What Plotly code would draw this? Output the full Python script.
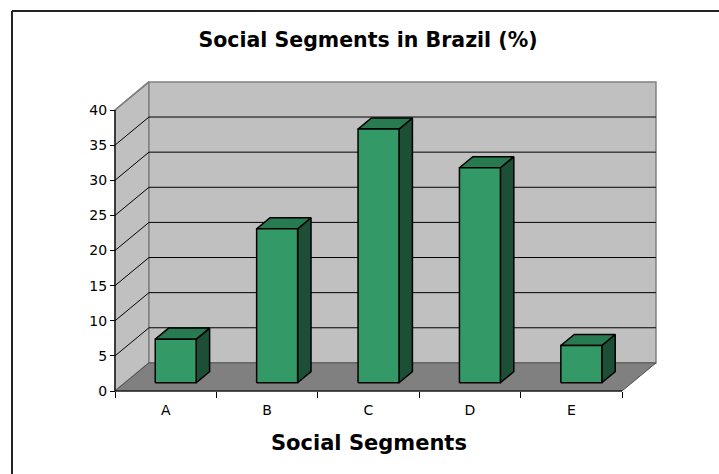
import plotly.graph_objects as go

# ---- data -------------------------------------------------------------
categories = ["A", "B", "C", "D", "E"]
shares = [6.2, 21.9, 36.1, 30.6, 5.3]   # % of population per social segment
y_ticks = [0, 5, 10, 15, 20, 25, 30, 35, 40]

# ---- layout geometry ---------------------------------------------------
W, H = 719, 474
ML, MR, MT, MB = 104, 50, 70, 80        # integer margins of the plot area
PW, PH = W - ML - MR, H - MT - MB
FRAME_X, FRAME_Y = 115, 391             # pixel position of the front-left floor corner
CAT_PX, UNIT_PX = 101.4, 7.025          # pixels per category slot / per percentage point

XMIN = -0.5 - (FRAME_X - ML) / CAT_PX
XMAX = XMIN + PW / CAT_PX
YMIN = -((H - MB) - FRAME_Y) / UNIT_PX
YMAX = YMIN + PH / UNIT_PX

TOP = y_ticks[-1]
N = len(categories)
DX, DY = 0.335, 4.0                     # floor depth vector (category units, % units)
BAR_W = 0.404
BAR_FRONT, BAR_BACK = 0.295, 0.69       # bar position along the depth

WALL = "#c0c0c0"
FLOOR = "#808080"
EDGE = "#808080"
FRONT = "#339966"
TOPC = "#287a51"
SIDE = "#1c4f35"

fig = go.Figure()


def poly_trace(polys, fill, line_color, width):
    xs, ys = [], []
    for p in polys:
        xs += [pt[0] for pt in p] + [p[0][0], None]
        ys += [pt[1] for pt in p] + [p[0][1], None]
    return go.Scatter(x=xs, y=ys, mode="lines", fill="toself", fillcolor=fill,
                      line=dict(color=line_color, width=width),
                      hoverinfo="skip", showlegend=False)


def line_trace(segs, color, width):
    xs, ys = [], []
    for (a, b) in segs:
        xs += [a[0], b[0], None]
        ys += [a[1], b[1], None]
    return go.Scatter(x=xs, y=ys, mode="lines", line=dict(color=color, width=width),
                      hoverinfo="skip", showlegend=False)


L, R = -0.5, N - 0.5
# walls and floor
fig.add_trace(poly_trace([[(L, 0), (L + DX, DY), (L + DX, TOP + DY), (L, TOP)]], WALL, EDGE, 1.5))
fig.add_trace(poly_trace([[(L + DX, DY), (R + DX, DY), (R + DX, TOP + DY), (L + DX, TOP + DY)]],
                         WALL, EDGE, 1.5))
fig.add_trace(poly_trace([[(L, 0), (R, 0), (R + DX, DY), (L + DX, DY)]], FLOOR, "#505050", 1))

# gridlines on the side and back walls
grid = []
for v in y_ticks[1:-1]:
    grid.append(((L, v), (L + DX, v + DY)))
    grid.append(((L + DX, v + DY), (R + DX, v + DY)))
fig.add_trace(line_trace(grid, "black", 1))
fig.add_trace(line_trace([((L, TOP), (L + DX, TOP + DY))], EDGE, 1.5))

# front axis lines
fig.add_trace(line_trace([((L, 0), (L, TOP)), ((L, 0), (R, 0))], "black", 1.2))

# 3-D bars
fronts, tops, sides = [], [], []
ddx = (BAR_BACK - BAR_FRONT) * DX
ddy = (BAR_BACK - BAR_FRONT) * DY
for i, v in enumerate(shares):
    x0 = i - BAR_W / 2 + BAR_FRONT * DX
    x1 = x0 + BAR_W
    y0 = BAR_FRONT * DY
    y1 = y0 + v
    fronts.append([(x0, y0), (x1, y0), (x1, y1), (x0, y1)])
    tops.append([(x0, y1), (x1, y1), (x1 + ddx, y1 + ddy), (x0 + ddx, y1 + ddy)])
    sides.append([(x1, y0), (x1 + ddx, y0 + ddy), (x1 + ddx, y1 + ddy), (x1, y1)])
fig.add_trace(poly_trace(sides, SIDE, "black", 1.5))
fig.add_trace(poly_trace(tops, TOPC, "black", 1.5))
fig.add_trace(poly_trace(fronts, FRONT, "black", 1.5))

tick_font = dict(family="DejaVu Sans", size=14, color="black")

# chart-area frame: only the top and left edges fall inside the page
fx0 = (12 - ML) / PW
fx1 = (W + 40 - ML) / PW
fy0 = ((H - MB) - (H + 40)) / PH
fy1 = ((H - MB) - 11) / PH
frame = dict(color="#222222", width=2)

fig.update_layout(
    width=W, height=H,
    margin=dict(l=ML, r=MR, t=MT, b=MB, pad=0),
    paper_bgcolor="white", plot_bgcolor="rgba(0,0,0,0)",
    showlegend=False,
    title=dict(text="Social Segments in Brazil (%)", x=368 / W, y=1 - 40 / H,
               xref="container", yref="container", xanchor="center", yanchor="middle",
               font=dict(family="DejaVu Sans", size=20.5, color="black", weight="bold")),
    xaxis=dict(range=[XMIN, XMAX], showgrid=False, zeroline=False, showline=False,
               anchor="free", position=((H - MB) - FRAME_Y) / PH,
               tickmode="array", tickvals=list(range(N)), ticktext=categories,
               ticks="", tickfont=tick_font, ticklabelstandoff=9,
               minor=dict(ticks="outside", ticklen=6, tickwidth=1, tickcolor="black",
                          tick0=-0.5, dtick=1, showgrid=False)),
    yaxis=dict(range=[YMIN, YMAX], showgrid=False, zeroline=False, showline=False,
               anchor="free", position=(FRAME_X - ML) / PW,
               tickmode="array", tickvals=y_ticks, ticks="outside", ticklen=5,
               tickwidth=1, tickcolor="black", tickfont=tick_font),
    annotations=[dict(text="Social Segments", xref="paper", yref="paper",
                      x=(369 - ML) / PW, y=((H - MB) - 443) / PH,
                      xanchor="center", yanchor="middle", showarrow=False,
                      font=dict(family="DejaVu Sans", size=21, color="black", weight="bold"))],
    shapes=[
        dict(type="line", xref="paper", yref="paper", layer="above",
             x0=fx0, x1=fx1, y0=fy1, y1=fy1, line=frame),
        dict(type="line", xref="paper", yref="paper", layer="above",
             x0=fx0, x1=fx0, y0=fy0, y1=fy1, line=frame),
    ],
)

fig.write_html("out.html")
